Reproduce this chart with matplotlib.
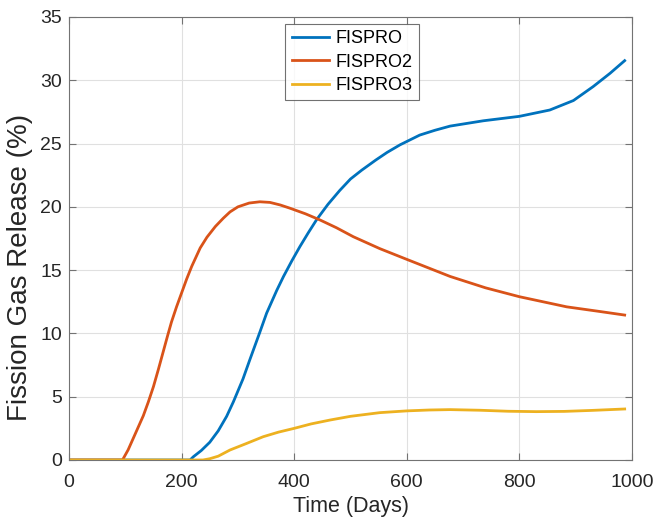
import numpy as np
import matplotlib
matplotlib.use("Agg")
import matplotlib.pyplot as plt

plt.rcParams['font.family'] = ['Liberation Sans', 'DejaVu Sans']

# FISPRO (blue)
days_fispro = [0, 215, 221, 235, 250, 265, 280, 292, 309, 321, 339, 351, 369, 381, 396,
               410, 425, 440, 460, 481, 500, 520, 545, 565, 588, 623, 650, 677, 736,
               800, 854, 896, 931, 961, 987]
fgr_fispro = [0, 0, 0.26, 0.75, 1.4, 2.3, 3.45, 4.6, 6.4, 7.9, 10.1, 11.6, 13.4, 14.5, 15.75,
              16.85, 17.95, 19.0, 20.2, 21.3, 22.2, 22.9, 23.7, 24.3, 24.9, 25.67, 26.05, 26.38, 26.8,
              27.15, 27.65, 28.4, 29.5, 30.55, 31.55]

# FISPRO2 (orange)
days_fispro2 = [0, 95, 105, 114, 123, 132, 141, 150, 159, 167, 175, 182, 191, 200, 209,
                218, 233, 245, 260, 274, 286, 300, 320, 339, 357, 375, 392, 420, 446,
                475, 505, 552, 600, 677, 740, 800, 884, 940, 987]
fgr_fispro2 = [0, 0, 0.8, 1.7, 2.6, 3.5, 4.6, 5.8, 7.2, 8.5, 9.8, 10.9, 12.1, 13.2, 14.3,
               15.3, 16.75, 17.6, 18.45, 19.1, 19.6, 20.0, 20.3, 20.4, 20.35, 20.15, 19.9, 19.45, 18.96,
               18.35, 17.64, 16.7, 15.85, 14.5, 13.6, 12.9, 12.1, 11.75, 11.45]

# FISPRO3 (yellow)
days_fispro3 = [0, 238, 250, 265, 286, 315, 345, 372, 400, 430, 464, 500, 552, 600,
                640, 677, 730, 780, 830, 880, 930, 987]
fgr_fispro3 = [0, 0, 0.1, 0.3, 0.79, 1.3, 1.84, 2.2, 2.5, 2.85, 3.16, 3.45, 3.74, 3.88,
               3.95, 3.98, 3.93, 3.85, 3.82, 3.84, 3.92, 4.03]

labels = ["FISPRO", "FISPRO2", "FISPRO3"]
colors = [(0, 0.447, 0.741), (0.85, 0.325, 0.098), (0.929, 0.694, 0.125)]

fig = plt.figure(figsize=(6.56, 5.21), dpi=100)
ax = fig.add_axes([0.1052, 0.1171, 0.8582, 0.8503])

series = [(days_fispro, fgr_fispro), (days_fispro2, fgr_fispro2), (days_fispro3, fgr_fispro3)]
for (d, v), lab, c in zip(series, labels, colors):
    ax.plot(d, v, color=c, lw=2, label=lab, solid_joinstyle='round')

ax.set_xlim(0, 1000)
ax.set_ylim(0, 35)
ax.set_xticks(np.arange(0, 1001, 200))
ax.set_yticks(np.arange(0, 36, 5))
ax.grid(True, color=(0.88, 0.88, 0.88), lw=0.8)
ax.set_axisbelow(True)

axis_col = (0.15, 0.15, 0.15)
for s in ax.spines.values():
    s.set_color((0.45, 0.45, 0.45))
    s.set_linewidth(0.8)
ax.tick_params(direction='in', top=True, right=True, length=5, width=0.8,
               color=(0.45, 0.45, 0.45), labelsize=14, labelcolor=axis_col)
ax.tick_params(axis='x', pad=10)
ax.tick_params(axis='y', pad=5)

ax.set_xlabel("Time (Days)", fontsize=15.5, color=axis_col, labelpad=4)
ax.set_ylabel("Fission Gas Release (%)", fontsize=20, color=axis_col)
ax.yaxis.set_label_coords(-0.064, 0.435)

leg = ax.legend(loc='upper left', bbox_to_anchor=(0.384, 0.984), fontsize=13,
                frameon=True, fancybox=False, edgecolor=(0.3, 0.3, 0.3),
                handlelength=2.1, handletextpad=0.35, borderpad=0.35, labelspacing=0.35,
                borderaxespad=0)
leg.get_frame().set_linewidth(0.8)

fig.savefig("out.png", dpi=100)
